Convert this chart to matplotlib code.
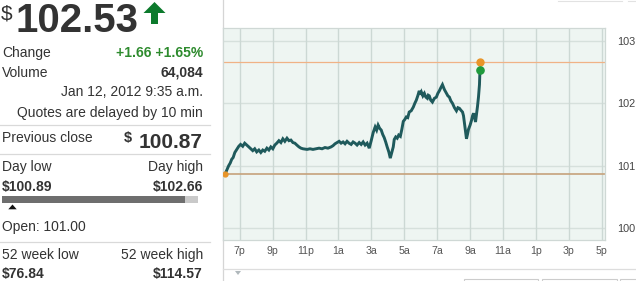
import matplotlib
matplotlib.use("Agg")
import matplotlib.pyplot as plt
from matplotlib import font_manager
from matplotlib.patches import Polygon, Rectangle

# ---------------- data ----------------
hours = [0.15, 0.25, 0.33, 0.42, 0.51, 0.60, 0.70, 0.82, 0.94, 1.05,
         1.18, 1.30, 1.43, 1.55, 1.67, 1.79, 1.91, 2.03, 2.16, 2.28,
         2.40, 2.52, 2.65, 2.77, 2.89, 3.01, 3.13, 3.25, 3.38, 3.50,
         3.62, 3.74, 3.87, 3.99, 4.11, 4.23, 4.35, 4.47, 4.60, 4.72,
         4.84, 5.09, 5.27, 5.45, 5.63, 5.82, 6.00, 6.18, 6.36, 6.55,
         6.67, 6.79, 6.91, 7.04, 7.16, 7.28, 7.40, 7.52, 7.64, 7.77,
         7.89, 8.01, 8.13, 8.26, 8.38, 8.50, 8.62, 8.74, 8.87, 8.99,
         9.11, 9.23, 9.32, 9.41, 9.50, 9.60, 9.69, 9.78, 9.87, 9.96,
         10.06, 10.15, 10.21, 10.27, 10.33, 10.39, 10.48, 10.57, 10.66, 10.76,
         10.85, 10.94, 11.03, 11.12, 11.21, 11.30, 11.42, 11.55, 11.64, 11.73,
         11.82, 11.91, 11.98, 12.04, 12.13, 12.22, 12.31, 12.40, 12.46, 12.52,
         12.61, 12.71, 12.83, 12.95, 13.04, 13.13, 13.22, 13.32, 13.44, 13.57,
         13.65, 13.74, 13.83, 13.93, 14.05, 14.17, 14.26, 14.35, 14.44, 14.54,
         14.60, 14.66, 14.72, 14.78, 14.84, 14.90, 15.00, 15.09, 15.15, 15.21,
         15.27, 15.33, 15.39, 15.45, 15.51, 15.57, 15.60]
prices = [100.89, 100.95, 101.00, 101.04, 101.10, 101.13, 101.21, 101.26, 101.31, 101.34,
          101.31, 101.36, 101.33, 101.30, 101.27, 101.24, 101.27, 101.22, 101.25, 101.21,
          101.25, 101.23, 101.28, 101.25, 101.30, 101.27, 101.33, 101.36, 101.40, 101.37,
          101.43, 101.39, 101.44, 101.40, 101.41, 101.37, 101.36, 101.33, 101.30, 101.28,
          101.27, 101.26, 101.27, 101.26, 101.27, 101.28, 101.27, 101.29, 101.28, 101.30,
          101.32, 101.35, 101.37, 101.39, 101.36, 101.38, 101.35, 101.39, 101.36, 101.34,
          101.38, 101.36, 101.33, 101.37, 101.34, 101.38, 101.33, 101.36, 101.28, 101.40,
          101.53, 101.62, 101.57, 101.65, 101.60, 101.57, 101.50, 101.45, 101.38, 101.30,
          101.22, 101.12, 101.18, 101.24, 101.30, 101.42, 101.46, 101.44, 101.49, 101.47,
          101.58, 101.71, 101.74, 101.78, 101.77, 101.86, 101.88, 101.94, 102.00, 102.05,
          102.12, 102.20, 102.14, 102.18, 102.12, 102.16, 102.10, 102.08, 102.13, 102.12,
          102.05, 102.02, 102.08, 102.10, 102.16, 102.20, 102.25, 102.30, 102.22, 102.16,
          102.12, 102.10, 102.04, 102.00, 101.93, 101.88, 101.93, 101.92, 101.89, 101.86,
          101.80, 101.68, 101.55, 101.43, 101.50, 101.58, 101.65, 101.73, 101.80, 101.84,
          101.78, 101.70, 101.82, 101.95, 102.10, 102.30, 102.53]
assert len(hours) == len(prices)

prev_close = 100.87
day_high = 102.66
last_price = 102.53
tick_hours = [1, 3, 5, 7, 9, 11, 13, 15, 17, 19, 21, 23]
tick_labels = ["7p", "9p", "11p", "1a", "3a", "5a", "7a", "9a", "11a", "1p", "3p", "5p"]
y_ticks = [100, 101, 102, 103]

# ---------------- fonts ----------------
avail = {f.name for f in font_manager.fontManager.ttflist}
REG = "Liberation Sans" if "Liberation Sans" in avail else "DejaVu Sans"
plt.rcParams["font.family"] = [REG, "DejaVu Sans"]

W, H = 636, 281
fig = plt.figure(figsize=(W / 100, H / 100), dpi=100)
fig.patch.set_facecolor("white")

# pixel-space background axes
bg = fig.add_axes([0, 0, 1, 1])
bg.set_xlim(0, W)
bg.set_ylim(H, 0)
bg.axis("off")

DARK = "#333333"
GREEN = "#2e8b2e"

def T(x, y, s, ha="left", size=10, weight="normal", color=DARK, family=None):
    bg.text(x, y, s, ha=ha, va="baseline", fontsize=size, fontweight=weight,
            color=color, family=family or [REG, "DejaVu Sans"])

# price header
T(1, 19.5, "$", size=15, color=DARK)
T(15, 32.5, "102.53", size=29, weight="bold", color=DARK)
bg.add_patch(Polygon([[154.5, 2], [143.5, 13], [151, 13], [151, 24],
                      [158, 24], [158, 13], [165.5, 13]],
                     closed=True, facecolor="#0c7a2c", edgecolor="none"))

RX = 203
T(2, 57.3, "Change")
T(RX, 56.8, "+1.66 +1.65%", ha="right", weight="bold", color=GREEN)
T(2, 76.7, "Volume")
T(RX, 76.7, "64,084", ha="right", weight="bold")
T(RX, 96, "Jan 12, 2012 9:35 a.m.", ha="right")
T(RX, 117.3, "Quotes are delayed by 10 min", ha="right")
SEP = "#d9d9d9"
for yy in (125, 154, 242.3):
    bg.plot([0, 210], [yy, yy], color=SEP, lw=0.9)
T(2, 141.7, "Previous close")
T(RX, 148.3, "100.87", ha="right", size=15, weight="bold")
T(124, 142, "$", size=10.5, weight="bold")
T(2, 170.7, "Day low")
T(RX, 170.7, "Day high", ha="right")
T(2, 191, "$100.89", weight="bold")
T(RX, 191, "$102.66", ha="right", weight="bold")
bg.add_patch(Rectangle((2, 196), 183, 7, facecolor="#6e6e6e", edgecolor="none"))
bg.add_patch(Rectangle((185, 196), 13, 7, facecolor="#c9c9c9", edgecolor="none"))
bg.add_patch(Polygon([[12.5, 204.5], [8.3, 209.3], [16.7, 209.3]], closed=True,
                     facecolor="#111111", edgecolor="none"))
T(2, 231, "Open: 101.00")
T(2, 259.3, "52 week low")
T(RX, 259.3, "52 week high", ha="right")
T(2, 278.3, "$76.84", weight="bold")
T(RX, 278.3, "$114.57", ha="right", weight="bold")

# chart panel frame pieces
bg.plot([223.3, 223.3], [0, H], color="#d5d5d5", lw=0.9)
bg.plot([223.3, W], [269, 269], color="#dddddd", lw=0.9)
bg.add_patch(Polygon([[235, 271], [241, 271], [238, 275]], closed=True,
                     facecolor="#b0b8bc", edgecolor="none"))
for x0, x1 in ((464, 538), (542, 617), (620, 640)):
    bg.add_patch(Rectangle((x0, 279), x1 - x0, 6, facecolor="white",
                           edgecolor="#cccccc", lw=0.8))
for x0, x1 in ((558, 622), (628, 640)):
    bg.plot([x0, x1], [1, 1], color="#e2e2e2", lw=0.8)

# ---------------- chart ----------------
left, right, top, bottom = 223.3, 605, 28.3, 240
ax = fig.add_axes([left / W, 1 - bottom / H, (right - left) / W, (bottom - top) / H])
ax.set_facecolor("#eef5f2")
ax.set_xlim(0, 23.2)
ax.set_ylim(99.805, 103.205)

for yv in y_ticks:
    ax.axhline(yv, color="#d6e0dc", lw=1.0, zorder=1)
for xv in tick_hours:
    ax.axvline(xv, color="#ccd8d4", lw=1.0, zorder=1)

ax.axhline(day_high, color="#f0b286", lw=0.9, zorder=2)
ax.axhline(prev_close, color="#c6a27c", lw=1.2, zorder=2)

ax.plot(hours, prices, color="#1f5a5c", lw=2.1, zorder=3, solid_joinstyle="miter")
ax.plot([0.08], [prev_close], "o", color="#e8952a", ms=3.5, zorder=4)
ax.plot([hours[-1]], [day_high], "o", color="#e8952a", ms=5, zorder=4)
ax.plot([hours[-1]], [last_price], "o", color="#1f9a3c", ms=5.2, zorder=5)

ax.set_xticks(tick_hours)
ax.set_xticklabels(tick_labels)
ax.set_yticks(y_ticks)
ax.yaxis.tick_right()
ax.tick_params(axis="x", length=0, pad=4.5, labelsize=7.6, labelcolor="#555555")
ax.tick_params(axis="y", length=0, pad=9, labelsize=7.8, labelcolor="#444444")
for sp in ax.spines.values():
    sp.set_color("#cfd8d5")
    sp.set_linewidth(0.9)

fig.savefig("out.png", dpi=100, facecolor="white")
